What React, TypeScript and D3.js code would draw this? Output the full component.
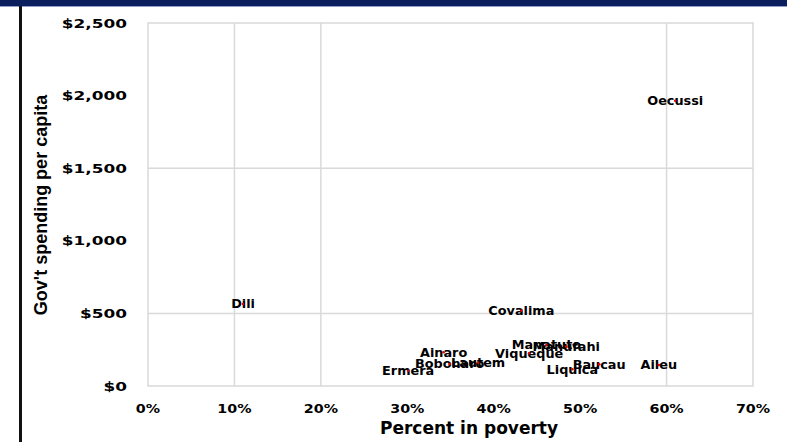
import React from "react";
import * as d3 from "d3";

const districts = ["Dili", "Oecussi", "Covalima", "Ainaro", "Ermera", "Bobonaro", "Lautem", "Viqueque", "Manatuto", "Manufahi", "Liquica", "Baucau", "Aileu"];
const poverty = [0.110, 0.610, 0.432, 0.342, 0.301, 0.349, 0.382, 0.441, 0.461, 0.484, 0.491, 0.522, 0.591];
const spending = [565, 1965, 519, 232, 105, 151, 160, 225, 282, 271, 115, 149, 145];

const xTicks = [0, 0.1, 0.2, 0.3, 0.4, 0.5, 0.6, 0.7];
const yTicks = [0, 500, 1000, 1500, 2000, 2500];
const xGrid = [0.1, 0.2, 0.6];
const yGrid = [500, 1500];

export default function App() {
  const W = 787, H = 442;
  const x = d3.scaleLinear().domain([0, 0.7]).range([148, 753]);
  const y = d3.scaleLinear().domain([0, 2500]).range([386, 23]);
  const fmtX = d3.format(".0%");
  const fmtY = (v: number) => "$" + d3.format(",")(v);
  const grid = "#d9d9d9";
  return (
    <svg width={W} height={H} style={{ position: "absolute", left: 0, top: 0, background: "#fff" }}>
      <rect x={0} y={0} width={W} height={6} fill="#0b1f5e" />
      <rect x={0} y={6} width={W} height={1} fill="#8ea0c8" />
      <rect x={19} y={6} width={3} height={H} fill="#111" />
      {xGrid.map((t, i) => (
        <line key={"xg" + i} x1={x(t)} x2={x(t)} y1={y(2500)} y2={y(0)} stroke={grid} strokeWidth={1.5} />
      ))}
      {yGrid.map((t, i) => (
        <line key={"yg" + i} x1={x(0)} x2={x(0.7)} y1={y(t)} y2={y(t)} stroke={grid} strokeWidth={1.5} />
      ))}
      <rect x={x(0)} y={y(2500)} width={x(0.7) - x(0)} height={y(0) - y(2500)} fill="none" stroke={grid} strokeWidth={1.5} />
      {yTicks.map((t, i) => (
        <g key={"yt" + i} transform={`translate(127,${y(t)}) scale(1.3,1)`}>
          <text textAnchor="end" dy="0.35em" fontFamily="DejaVu Sans" fontWeight="bold" fontSize={13} fill="#000">{fmtY(t)}</text>
        </g>
      ))}
      {xTicks.map((t, i) => (
        <g key={"xt" + i} transform={`translate(${x(t)},408) scale(1.1,1)`}>
          <text textAnchor="middle" dy="0.35em" fontFamily="DejaVu Sans" fontWeight="bold" fontSize={13} fill="#000">{fmtX(t)}</text>
        </g>
      ))}
      <text x={469} y={428} dy="0.35em" textAnchor="middle" fontFamily="DejaVu Sans" fontWeight="bold" fontSize={17} fill="#000">Percent in poverty</text>
      <text transform={`translate(41,205) rotate(-90)`} textAnchor="middle" dy="0.35em" fontFamily="Liberation Sans" fontWeight="bold" fontSize={18} fill="#000">Gov't spending per capita</text>
      {districts.map((d, i) => (
        <g key={"lb" + i} transform={`translate(${x(poverty[i])},${y(spending[i])}) scale(1.07,1)`}>
          <text textAnchor="middle" dy="0.35em" fontFamily="DejaVu Sans" fontWeight="bold" fontSize={12} fill="#000">{d}</text>
        </g>
      ))}
      {districts.map((d, i) => (
        <circle key={"pt" + i} cx={x(poverty[i])} cy={y(spending[i])} r={1.3} fill="#e00000" />
      ))}
    </svg>
  );
}
